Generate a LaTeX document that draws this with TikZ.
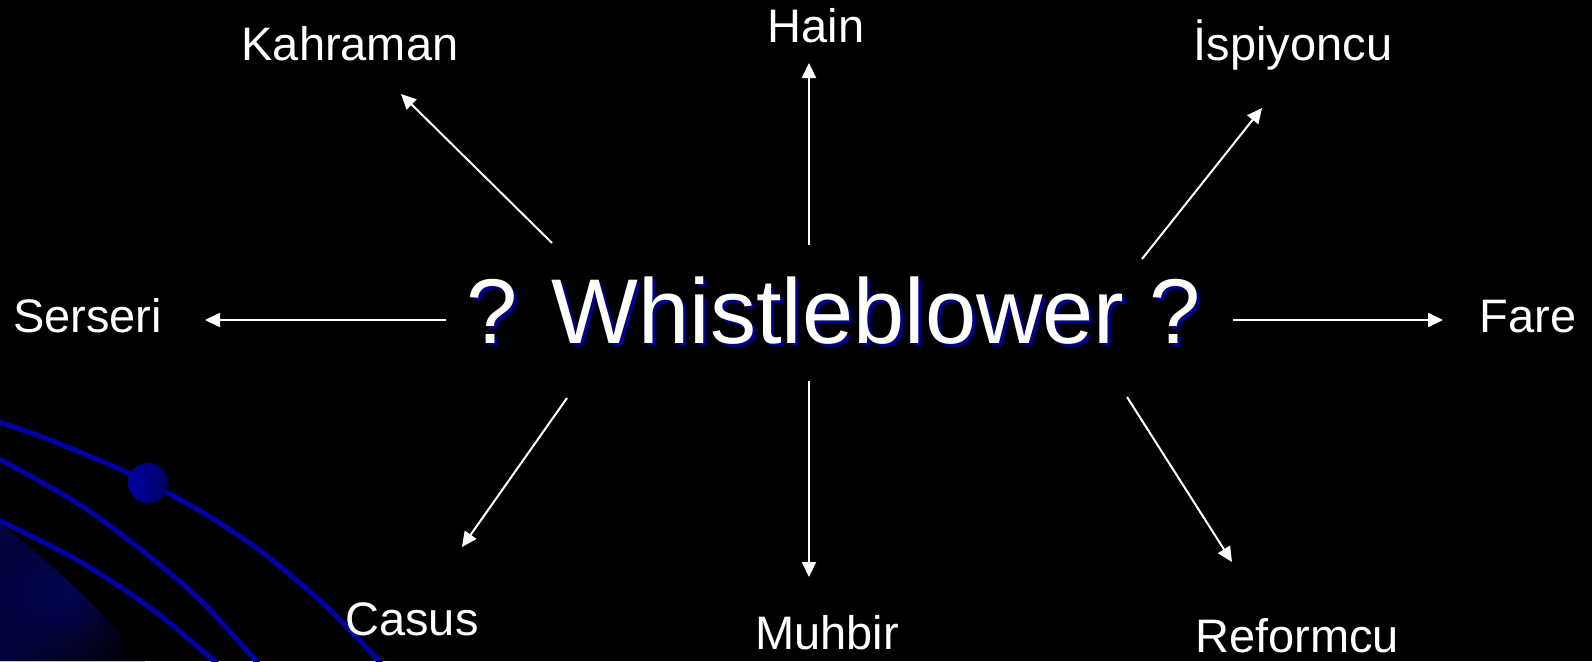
\documentclass[tikz,border=0pt]{standalone}
\usepackage{fontspec}
\setmainfont{Liberation Sans}
\usetikzlibrary{arrows.meta}
\definecolor{decoblue}{RGB}{0,0,165}
\definecolor{shadowblue}{RGB}{0,0,140}
\tikzset{
  lbl/.style={anchor=base, text=white, inner sep=0pt, text depth=0pt, font=\fontsize{47}{56}\selectfont},
  conn/.style={draw=white, line width=2pt, -{Triangle[length=15pt,width=14pt]}},
  deco/.style={draw=decoblue, line width=5pt, line cap=round},
}
\begin{document}
\begin{tikzpicture}[x=1pt,y=-1pt]
\useasboundingbox (0,0) rectangle (1592,661);
\fill[black] (0,0) rectangle (1592,661);
% decoration
\begin{scope}
\clip (0,0) rectangle (1592,661);
\shade[inner color={rgb,255:red,10;green,10;blue,120}, outer color=black]
  (0,523) .. controls (60,570) and (110,620) .. (145,661) -- (0,661) -- cycle;
\shade[left color={rgb,255:red,5;green,5;blue,110}, right color=black, opacity=0.6]
  (0,523) .. controls (60,570) and (110,620) .. (145,661) -- (0,661) -- cycle;
\draw[deco] plot[smooth] coordinates {(-10,419) (50,440) (128,473) (200,511) (263,553) (330,610) (385,668)};
\draw[deco] plot[smooth] coordinates {(-10,454) (77,503) (140,549) (200,600) (262,668)};
\draw[deco] plot[smooth] coordinates {(-10,516) (77,560) (153,610) (222,668)};
\end{scope}
\shade[shading angle=45, left color={rgb,255:red,0;green,0;blue,165}, right color={rgb,255:red,0;green,0;blue,95}] (148,483) circle (20);
% centre
\node[anchor=base, inner sep=0pt, text=shadowblue, font=\fontsize{92}{100}\selectfont] (shadow) at (837,346) {? Whistleblower ?};
\node[anchor=base, inner sep=0pt, text=white, font=\fontsize{92}{100}\selectfont] (centre) at (834,343) {? Whistleblower ?};
% labels
\node[lbl] (kahraman) at (350,60) {Kahraman};
\node[lbl] (hain) at (816,43) {Hain};
\node[lbl] (ispiyoncu) at (1293,60) {İspiyoncu};
\node[lbl] (serseri) at (87.5,332) {Serseri};
\node[lbl] (fare) at (1528,332) {Fare};
\node[lbl] (casus) at (412,635) {Casus};
\node[lbl] (muhbir) at (827,649) {Muhbir};
\node[lbl] (reformcu) at (1297,652) {Reformcu};
% arrow ends
\coordinate (k1) at (552,243); \coordinate (k2) at (401,94);
\coordinate (h1) at (809,245); \coordinate (h2) at (809,63);
\coordinate (i1) at (1142,259); \coordinate (i2) at (1262,108);
\coordinate (s1) at (446,320); \coordinate (s2) at (205,320);
\coordinate (f1) at (1233,320); \coordinate (f2) at (1443,320);
\coordinate (c1) at (567,398); \coordinate (c2) at (462,547);
\coordinate (m1) at (809,381); \coordinate (m2) at (809,577);
\coordinate (r1) at (1127,397); \coordinate (r2) at (1232,562);
\draw[conn] (k1) -- (k2);
\draw[conn] (h1) -- (h2);
\draw[conn] (i1) -- (i2);
\draw[conn] (s1) -- (s2);
\draw[conn] (f1) -- (f2);
\draw[conn] (c1) -- (c2);
\draw[conn] (m1) -- (m2);
\draw[conn] (r1) -- (r2);
\end{tikzpicture}
\end{document}
